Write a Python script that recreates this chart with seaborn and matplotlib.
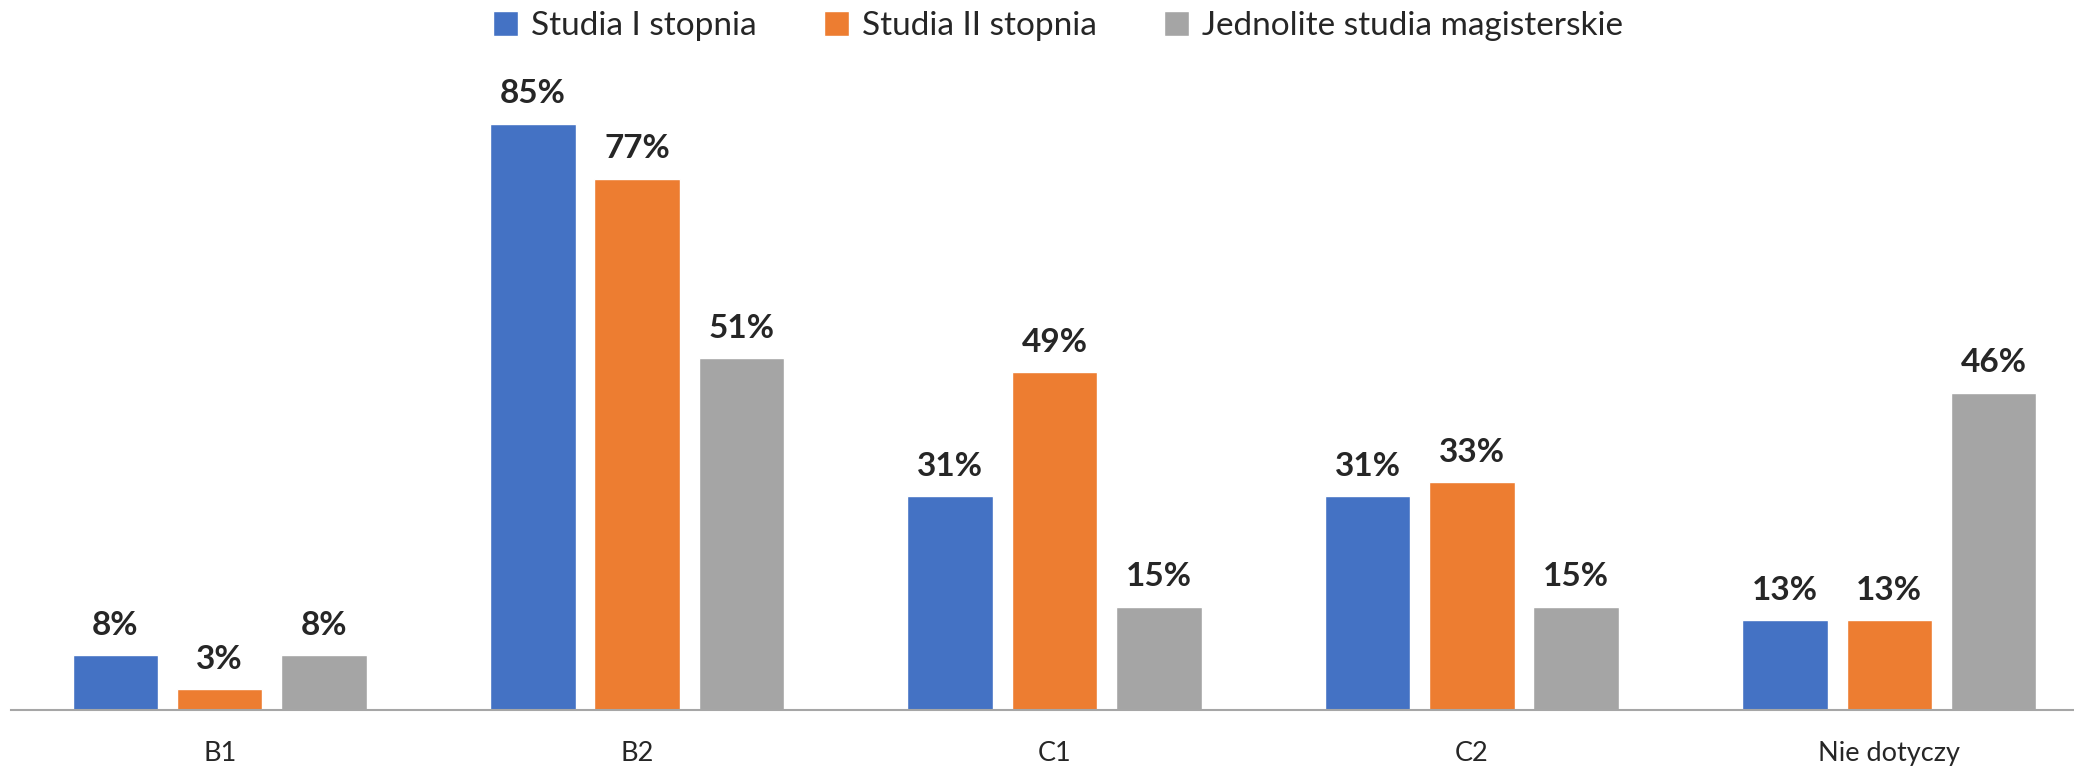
import matplotlib.pyplot as plt
import seaborn as sns
import pandas as pd

categories = ['B1', 'B2', 'C1', 'C2', 'Nie dotyczy']
series = ['Studia I stopnia', 'Studia II stopnia', 'Jednolite studia magisterskie']
studia_1 = [8, 85, 31, 31, 13]
studia_2 = [3, 77, 49, 33, 13]
jednolite = [8, 51, 15, 15, 46]
colors = ['#4472C4', '#ED7D31', '#A5A5A5']

rows = []
for s, vals in zip(series, [studia_1, studia_2, jednolite]):
    for c, v in zip(categories, vals):
        rows.append({'kategoria': c, 'seria': s, 'wartosc': v})
df = pd.DataFrame(rows)

sns.set_style('white')
plt.rcParams['font.family'] = ['Lato', 'DejaVu Sans']

fig = plt.figure(figsize=(20.74, 7.68), dpi=100)
# axes run slightly past the right edge, like the original
ax = fig.add_axes([11 / 2074, 58 / 768, 2087 / 2074, 690 / 768])

sns.barplot(data=df, x='kategoria', y='wartosc', hue='seria', palette=colors,
            order=categories, hue_order=series, width=0.75, gap=0.18,
            saturation=1, errorbar=None, ax=ax)

for cont in ax.containers:
    labels = [f'{int(v)}%' for v in cont.datavalues]
    ax.bar_label(cont, labels=labels, padding=11, fontsize=24, fontweight='bold')

ax.set_ylim(0, 100)
ax.set_xlim(-0.5, 4.5)
ax.set_xlabel('')
ax.set_ylabel('')
ax.set_yticks([])
for side in ['top', 'left', 'right']:
    ax.spines[side].set_visible(False)
ax.spines['bottom'].set_color('#A6A6A6')
ax.spines['bottom'].set_linewidth(1.5)
ax.tick_params(axis='x', length=0, pad=22, labelsize=19.5)

ax.legend(loc='center', bbox_to_anchor=(1058 / 2074, 1 - 26 / 768),
          bbox_transform=fig.transFigure, ncol=3, frameon=False,
          fontsize=24, handlelength=0.75, handleheight=0.75, columnspacing=2.0,
          handletextpad=0.4)

fig.savefig('out.png', dpi=100)
